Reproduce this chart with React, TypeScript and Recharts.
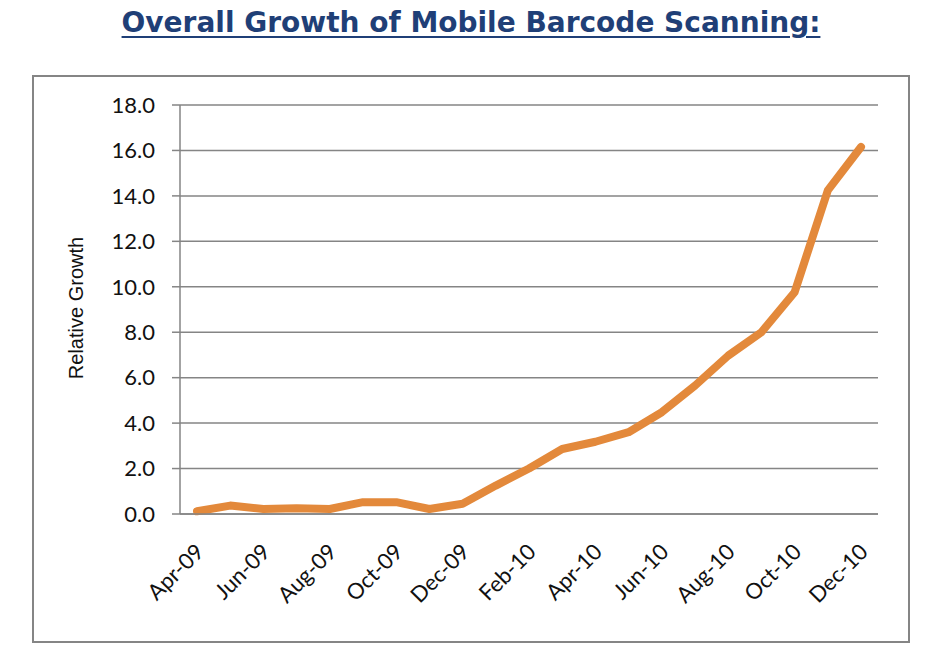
import React from 'react'
import { LineChart, Line, XAxis, YAxis, CartesianGrid } from 'recharts'

const months = [
  'Apr-09', 'May-09', 'Jun-09', 'Jul-09', 'Aug-09', 'Sep-09', 'Oct-09', 'Nov-09', 'Dec-09',
  'Jan-10', 'Feb-10', 'Mar-10', 'Apr-10', 'May-10', 'Jun-10', 'Jul-10', 'Aug-10', 'Sep-10',
  'Oct-10', 'Nov-10', 'Dec-10',
]
const growth = [
  0.12, 0.37, 0.22, 0.25, 0.22, 0.52, 0.52, 0.22, 0.45,
  1.25, 2.0, 2.86, 3.18, 3.6, 4.48, 5.65, 6.97, 8.0,
  9.76, 14.24, 16.15,
]
const yTicks = [0, 2, 4, 6, 8, 10, 12, 14, 16, 18]

const data = months.map((m, i) => ({ month: m, value: growth[i] }))

const gray = '#858585'
const tickFont = 'Lato, "Open Sans", sans-serif'

function MonthTick({ x, y, payload }: any) {
  return (
    <g transform={`translate(${x - 3},${y + 20})`}>
      <text
        textAnchor="end"
        transform="rotate(-45)"
        dy="0.72em"
        fontFamily={tickFont}
        fontSize={22}
        fill="#111"
      >
        {payload.value}
      </text>
    </g>
  )
}

export default function App() {
  return (
    <div style={{ position: 'absolute', left: 0, top: 0, width: 937, height: 661, background: '#fff' }}>
      <div
        style={{
          position: 'absolute',
          left: 0,
          width: 942,
          top: 8,
          textAlign: 'center',
          fontFamily: '"DejaVu Sans", sans-serif',
          fontWeight: 'bold',
          fontSize: 28,
          lineHeight: '30px',
          color: '#1f3f77',
          textDecoration: 'underline',
          textUnderlineOffset: 4,
          textDecorationThickness: 2,
        }}
      >
        Overall Growth of Mobile Barcode Scanning:
      </div>
      <div
        style={{
          position: 'absolute',
          left: 32,
          top: 75,
          width: 878,
          height: 568,
          border: `2px solid ${gray}`,
          boxSizing: 'border-box',
        }}
      />
      <div style={{ position: 'absolute', left: 0, top: 0 }}>
        <LineChart width={937} height={661} data={data} margin={{ top: 105, right: 59, bottom: 0, left: 0 }}>
          <CartesianGrid horizontal vertical={false} stroke={gray} strokeWidth={1.5} />
          <XAxis
            dataKey="month"
            interval={1}
            height={147}
            padding={{ left: 17, right: 17 }}
            axisLine={{ stroke: gray, strokeWidth: 1.5 }}
            tickLine={false}
            tick={<MonthTick />}
          />
          <YAxis
            width={180}
            domain={[0, 18]}
            ticks={yTicks}
            tickFormatter={(v: number) => v.toFixed(1)}
            axisLine={{ stroke: gray, strokeWidth: 1.5 }}
            tickLine={{ stroke: gray, strokeWidth: 1.5 }}
            tickSize={8}
            tickMargin={17}
            tick={{ fontFamily: tickFont, fontSize: 22, fill: '#111' }}
            label={() => (
              <text
                x={76}
                y={308}
                transform="rotate(-90, 76, 308)"
                textAnchor="middle"
                dominantBaseline="central"
                fontFamily='"Liberation Sans", Arial, sans-serif'
                fontSize={20}
                fill="#111"
              >
                Relative Growth
              </text>
            )}
          />
          <Line
            type="linear"
            dataKey="value"
            stroke="#e3893b"
            strokeWidth={8}
            strokeLinejoin="round"
            strokeLinecap="round"
            dot={false}
            activeDot={false}
            isAnimationActive={false}
          />
        </LineChart>
      </div>
    </div>
  )
}
